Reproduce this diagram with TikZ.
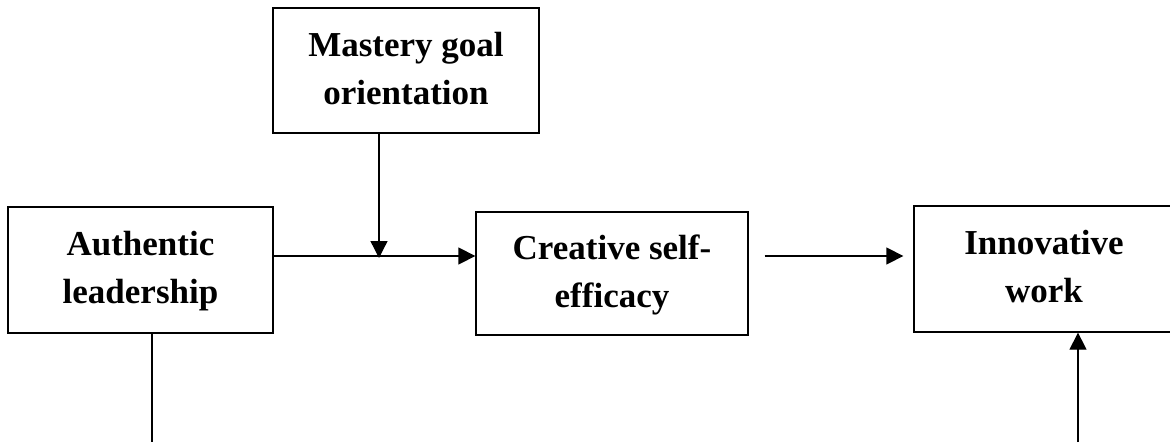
\documentclass[tikz,border=0pt]{standalone}
\usepackage{fontspec}
\setmainfont{Liberation Serif}
\usetikzlibrary{arrows.meta}
\usetikzlibrary{calc}
\tikzset{
  modelbox/.style={draw, line width=1.3pt, rectangle, align=center, inner sep=0pt,
    font=\fontsize{35}{48}\selectfont\bfseries},
  modelline/.style={line width=1.3pt},
  modelarrow/.style={line width=1.3pt, -{Triangle[length=17pt,width=17pt]}}
}
\begin{document}
\begin{tikzpicture}[x=1pt,y=-1pt]
        \newcommand{\figmodellinky}{256}
        \newcommand{\figmodelmodx}{379}
        \newcommand{\figmodelfootly}{442}
        \newcommand{\figmodelfootlx}{152}
        \newcommand{\figmodelfootrx}{1078}
        \useasboundingbox (0,0) rectangle (1170,442);
        \node[modelbox, minimum width=266pt, minimum height=125pt] (mastery) at (406,70.5) {\strut Mastery goal\\\strut orientation};
        \node[modelbox, minimum width=265pt, minimum height=126pt] (auth) at (140.5,270) {\strut Authentic\\\strut leadership};
        \node[modelbox, minimum width=272pt, minimum height=123pt] (creative) at (612,273.5) {\strut Creative self-\\\strut efficacy};
        \node[modelbox, minimum width=260pt, minimum height=126pt] (innov) at (1044,269) {\strut Innovative\\\strut work};
        \coordinate (modjoin) at (\figmodelmodx,\figmodellinky);
        \coordinate (footl) at (\figmodelfootlx,\figmodelfootly);
        \coordinate (footr) at (\figmodelfootrx,\figmodelfootly);
        \draw[modelarrow] (auth.east |- modjoin) -- (creative.west |- modjoin);
        \draw[modelarrow] (mastery.south -| modjoin) -- ([yshift=-2pt]modjoin);
        \draw[modelarrow] ([xshift=16pt]creative.east |- modjoin) -- ([xshift=-10pt]innov.west |- modjoin);
        \draw[modelline] (auth.south -| footl) -- (footl);
        \draw[modelarrow] (footr) -- (innov.south -| footr);
\end{tikzpicture}
\end{document}
